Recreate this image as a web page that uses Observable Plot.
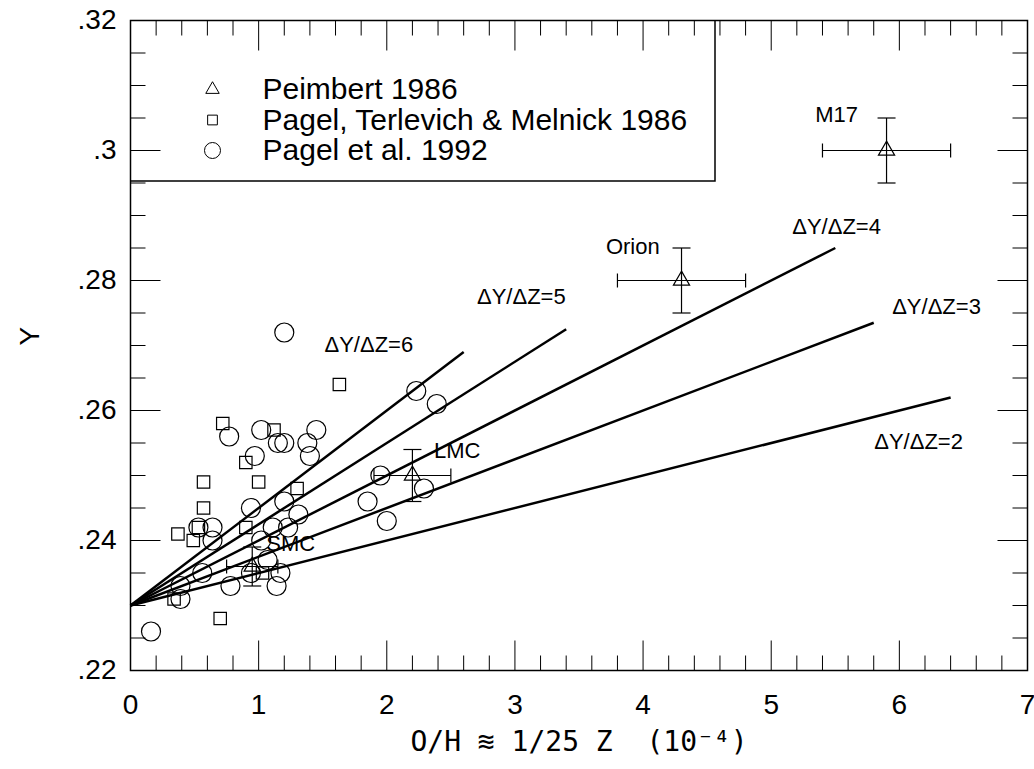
<!DOCTYPE html>
<html><head><meta charset="utf-8">
<script src="https://cdn.jsdelivr.net/npm/d3@7"></script>
<script src="https://cdn.jsdelivr.net/npm/@observablehq/plot@0.6"></script>
<style>body{margin:0;background:#fff} svg text{white-space:pre}</style>
</head><body><div id="chart"></div>
<script>
// Pagel et al. 1992 (circles)
const pagel92X = [1.20,2.23,2.39,0.77,1.02,1.15,1.20,0.97,1.45,1.38,1.40,1.95,2.29,1.85,2.00,0.94,0.53,0.64,1.20,1.31,1.11,1.23,0.64,1.02,1.07,0.56,0.78,1.14,1.17,0.94,0.39,0.39,0.16];
const pagel92Y = [.272,.263,.261,.256,.257,.255,.255,.253,.257,.255,.253,.250,.248,.246,.243,.245,.242,.242,.246,.244,.242,.242,.240,.240,.237,.235,.233,.233,.235,.235,.233,.231,.226];
// Pagel, Terlevich & Melnick 1986 (squares)
const ptm86X = [0.72,1.12,0.90,0.57,1.00,0.57,1.30,0.37,0.90,0.49,0.53,0.34,0.70,1.03,1.63];
const ptm86Y = [.258,.257,.252,.249,.249,.245,.248,.241,.242,.240,.242,.231,.228,.235,.264];
// Peimbert 1986 (triangles with error bars)
const peimName = ["M17","Orion","LMC","SMC"];
const peimX = [5.9,4.3,2.2,0.95];
const peimY = [0.300,0.280,0.250,0.236];
const peimXErr = [0.5,0.5,0.3,0.2];
const peimYErr = [0.005,0.005,0.004,0.003];
const peimLabelX = [5.51,3.92,2.55,1.25];
const peimLabelY = [0.3054,0.2851,0.2538,0.2395];
// Delta Y / Delta Z lines
const slopeK = [6,5,4,3,2];
const lineStartX = 0, lineStartY = 0.23;
const lineEndX = [2.6,3.4,5.5,5.8,6.4];
const lineEndY = [0.269,0.2725,0.285,0.2735,0.262];
const slopeLabelX = [1.86,3.05,5.51,6.29,6.15];
const slopeLabelY = [0.2701,0.2774,0.2883,0.2760,0.2552];
// axes
const xTicks = [0,1,2,3,4,5,6,7];
const yTicks = [0.22,0.24,0.26,0.28,0.30,0.32];
const legendLabels = ["Peimbert 1986","Pagel, Terlevich & Melnick 1986","Pagel et al. 1992"];
const legendSymbols = ["triangle","square","circle"];

const xDomain = [0,7], yDomain = [0.22,0.32];
const xMinor = d3.range(0,7.0001,0.2).filter(v => Math.abs(v - Math.round(v)) > 1e-6);
const yMinor = d3.range(0.22,0.32001,0.005).filter(v => Math.abs(v/0.02 - Math.round(v/0.02)) > 1e-6);

const circles = pagel92X.map((x,i)=>({x, y: pagel92Y[i]}));
const squares = ptm86X.map((x,i)=>({x, y: ptm86Y[i]}));
const peim = peimName.map((n,i)=>({name:n, x:peimX[i], y:peimY[i], xe:peimXErr[i], ye:peimYErr[i], lx:peimLabelX[i], ly:peimLabelY[i]}));
const lines = slopeK.map((k,i)=>({k, x2: lineEndX[i], y2: lineEndY[i], lx: slopeLabelX[i], ly: slopeLabelY[i]}));

const seg = (dx1,dy1,dx2,dy2) => ({draw(ctx,size){const r=Math.sqrt(size/Math.PI); ctx.moveTo(dx1*r,dy1*r); ctx.lineTo(dx2*r,dy2*r);}});
const tUp = seg(0,0,0,-1), tDown = seg(0,0,0,1), tRight = seg(0,0,1,0), tLeft = seg(0,0,-1,0);
const hCap = seg(-1,0,1,0), vCap = seg(0,-1,0,1);

const font = "Liberation Sans, Arial, Helvetica, sans-serif";
const stroke = {fill:"none", stroke:"black"};

const tickMarks = [];
for (const [vals, len] of [[xTicks,30],[xMinor,15]]) {
  tickMarks.push(Plot.dot(vals,{x:d=>d, y:yDomain[0], symbol:tUp, r:len, ...stroke, strokeWidth:1}));
  tickMarks.push(Plot.dot(vals,{x:d=>d, y:yDomain[1], symbol:tDown, r:len, ...stroke, strokeWidth:1}));
}
for (const [vals, len] of [[yTicks,30],[yMinor,15]]) {
  tickMarks.push(Plot.dot(vals,{x:xDomain[0], y:d=>d, symbol:tRight, r:len, ...stroke, strokeWidth:1}));
  tickMarks.push(Plot.dot(vals,{x:xDomain[1], y:d=>d, symbol:tLeft, r:len, ...stroke, strokeWidth:1}));
}

const legendMarks = [];
legendLabels.forEach((lab,i)=>{
  const dy = 69 + i*30.5;
  legendMarks.push(Plot.dot([0],{frameAnchor:"top-left", dx:82, dy, symbol:legendSymbols[i], r:[5,5.5,8][i], ...stroke, strokeWidth:1}));
  legendMarks.push(Plot.text([lab],{frameAnchor:"top-left", dx:132, dy, text:d=>d, textAnchor:"start", lineAnchor:"middle", fontSize:30, fontFamily:font, fill:"black"}));
});

const chart = Plot.plot({
  width:1034, height:769,
  marginLeft:130, marginRight:7, marginTop:20, marginBottom:99,
  x:{domain:xDomain, axis:null},
  y:{domain:yDomain, axis:null},
  style:{background:"white", color:"black"},
  marks:[
    ...tickMarks,
    Plot.frame({stroke:"black", strokeWidth:1.5}),
    Plot.text(xTicks,{x:d=>d, y:yDomain[0], dy:35, text:d=>String(d), fontSize:28, fontFamily:font, fill:"black"}),
    Plot.text(yTicks,{x:xDomain[0], y:d=>d, dx:-14, text:d=>d3.format(".2~f")(d).replace(/^0/,""), textAnchor:"end", fontSize:28, fontFamily:font, fill:"black"}),
    Plot.link(lines,{x1:()=>lineStartX, y1:()=>lineStartY, x2:"x2", y2:"y2", stroke:"black", strokeWidth:2.5}),
    Plot.text(lines,{x:"lx", y:"ly", text:d=>`ΔY/ΔZ=${d.k}`, fontSize:22, fontFamily:font, fill:"black"}),
    Plot.dot(circles,{x:"x", y:"y", r:9.5, ...stroke, strokeWidth:1.2}),
    Plot.dot(squares,{x:"x", y:"y", symbol:"square", r:7, ...stroke, strokeWidth:1.2}),
    Plot.link(peim,{x1:d=>d.x-d.xe, x2:d=>d.x+d.xe, y1:"y", y2:"y", stroke:"black", strokeWidth:1.2}),
    Plot.link(peim,{x1:"x", x2:"x", y1:d=>d.y-d.ye, y2:d=>d.y+d.ye, stroke:"black", strokeWidth:1.2}),
    Plot.dot(peim,{x:d=>d.x-d.xe, y:"y", symbol:vCap, r:7, ...stroke, strokeWidth:1.2}),
    Plot.dot(peim,{x:d=>d.x+d.xe, y:"y", symbol:vCap, r:7, ...stroke, strokeWidth:1.2}),
    Plot.dot(peim,{x:"x", y:d=>d.y-d.ye, symbol:hCap, r:9, ...stroke, strokeWidth:1.2}),
    Plot.dot(peim,{x:"x", y:d=>d.y+d.ye, symbol:hCap, r:9, ...stroke, strokeWidth:1.2}),
    Plot.dot(peim,{x:"x", y:"y", symbol:"triangle", r:6, ...stroke, strokeWidth:1.2}),
    Plot.text(peim,{x:"lx", y:"ly", text:"name", fontSize:22, fontFamily:font, fill:"black"}),
    ...legendMarks,
    Plot.text(["O/H ≋ 1/25 Z  (10⁻⁴)"],{frameAnchor:"bottom", dy:80, text:d=>d, fontSize:28, fontFamily:"DejaVu Sans Mono, monospace", fill:"black"}),
    Plot.text(["Y"],{frameAnchor:"left", dx:-100, rotate:-90, text:d=>d, fontSize:28, fontFamily:font, fill:"black"})
  ]
});
// legend box (right and bottom edges; top/left coincide with the frame)
d3.select(chart).append("path").attr("d","M130,181H715V20").attr("fill","none").attr("stroke","black").attr("stroke-width",1.5);
document.getElementById("chart").append(chart);
</script>
</body></html>
